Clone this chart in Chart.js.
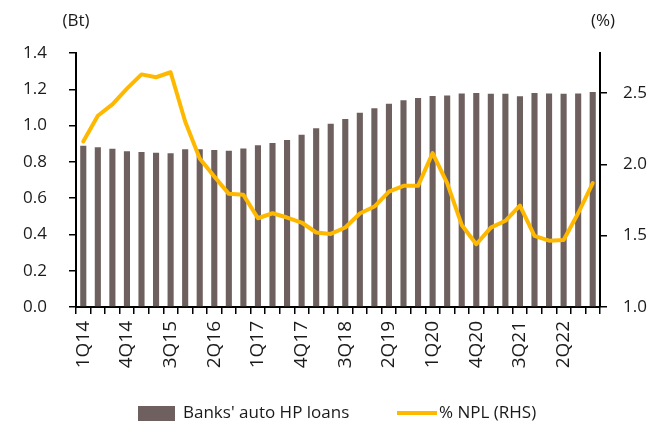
<!DOCTYPE html>
<html>
<head>
<meta charset="utf-8">
<script src="https://cdn.jsdelivr.net/npm/chart.js@4.4.1/dist/chart.umd.min.js"></script>
<style>
  html, body { margin: 0; padding: 0; background: #ffffff; }
  #wrap { width: 660px; height: 425px; position: relative; }
</style>
</head>
<body>
<div id="wrap"><canvas id="c" width="660" height="425"></canvas></div>
<script>
const quarters = ['1Q14','2Q14','3Q14','4Q14','1Q15','2Q15','3Q15','4Q15',
  '1Q16','2Q16','3Q16','4Q16','1Q17','2Q17','3Q17','4Q17',
  '1Q18','2Q18','3Q18','4Q18','1Q19','2Q19','3Q19','4Q19',
  '1Q20','2Q20','3Q20','4Q20','1Q21','2Q21','3Q21','4Q21',
  '1Q22','2Q22','3Q22','4Q22'];
const loans = [0.889,0.881,0.872,0.859,0.854,0.850,0.848,0.869,
  0.870,0.865,0.861,0.874,0.891,0.904,0.920,0.949,
  0.985,1.010,1.036,1.071,1.096,1.120,1.139,1.152,
  1.163,1.166,1.177,1.179,1.175,1.175,1.161,1.179,
  1.177,1.175,1.177,1.185];
const npl = [2.16,2.34,2.42,2.53,2.63,2.61,2.645,2.30,
  2.04,1.914,1.793,1.786,1.622,1.657,1.627,1.592,
  1.522,1.512,1.557,1.655,1.704,1.809,1.849,1.849,
  2.079,1.868,1.575,1.44,1.556,1.604,1.711,1.498,
  1.465,1.470,1.657,1.868];
const leftTicks = [0,0.2,0.4,0.6,0.8,1.0,1.2,1.4];
const rightTicks = [1.0,1.5,2.0,2.5];
const seriesNames = ["Banks' auto HP loans", "% NPL (RHS)"];
const axisTitles = ['(Bt)', '(%)'];

const BAR = '#6e605e';
const LINE = '#ffb800';
const TXT = '#1a1a1a';
const FONT = '"Open Sans", "DejaVu Sans", sans-serif';

const extras = {
  id: 'extras',
  afterDraw(chart) {
    const ctx = chart.ctx;
    ctx.save();
    ctx.font = '17px ' + FONT;
    ctx.fillStyle = TXT;
    ctx.textBaseline = 'middle';
    ctx.textAlign = 'center';
    ctx.fillText(axisTitles[0], 76, 21);
    ctx.fillText(axisTitles[1], 603, 21);
    // legend
    ctx.textAlign = 'left';
    ctx.fillStyle = BAR;
    ctx.fillRect(138, 406, 37, 15);
    ctx.fillStyle = TXT;
    ctx.fillText(seriesNames[0], 183, 413);
    ctx.strokeStyle = LINE;
    ctx.lineWidth = 4;
    ctx.beginPath();
    ctx.moveTo(397, 413);
    ctx.lineTo(437, 413);
    ctx.stroke();
    ctx.fillText(seriesNames[1], 439, 413);
    ctx.restore();
  }
};

new Chart(document.getElementById('c'), {
  data: {
    labels: quarters,
    datasets: [
      {
        type: 'line',
        label: seriesNames[1],
        data: npl,
        yAxisID: 'y1',
        borderColor: LINE,
        backgroundColor: LINE,
        borderWidth: 4,
        pointRadius: 0,
        tension: 0,
        borderJoinStyle: 'round',
        borderCapStyle: 'round',
        order: 0
      },
      {
        type: 'bar',
        label: seriesNames[0],
        data: loans,
        yAxisID: 'y',
        backgroundColor: BAR,
        barPercentage: 0.42,
        categoryPercentage: 1.0,
        order: 1
      }
    ]
  },
  options: {
    responsive: false,
    animation: false,
    devicePixelRatio: 1,
    layout: { padding: { top: 53, bottom: 40, left: 0, right: 0 } },
    plugins: { legend: { display: false }, tooltip: { enabled: false } },
    scales: {
      x: {
        offset: true,
        grid: { display: true, drawOnChartArea: false, drawTicks: true, tickLength: 7, color: '#000', lineWidth: 1.5, offset: true },
        border: { display: true, color: '#000', width: 2 },
        ticks: {
          autoSkip: false,
          minRotation: 90,
          maxRotation: 90,
          padding: 7,
          color: TXT,
          font: { size: 19, family: FONT },
          callback: function(v, i) { return i % 3 === 0 ? quarters[i] : ''; }
        },
        afterFit(s) { s.height = 78; }
      },
      y: {
        position: 'left',
        min: 0,
        max: 1.4,
        afterBuildTicks(s) { s.ticks = leftTicks.map(v => ({ value: v })); },
        grid: { drawOnChartArea: false, drawTicks: true, tickLength: 7, color: '#000', lineWidth: 1.5 },
        border: { display: true, color: '#000', width: 2 },
        ticks: {
          padding: 22,
          color: TXT,
          font: { size: 17, family: FONT },
          callback: v => Number(v).toFixed(1)
        },
        afterFit(s) { s.width = 76; }
      },
      y1: {
        position: 'right',
        min: 1.0,
        max: 2.78,
        afterBuildTicks(s) { s.ticks = rightTicks.map(v => ({ value: v })); },
        grid: { drawOnChartArea: false, drawTicks: true, tickLength: 7, color: '#000', lineWidth: 1.5 },
        border: { display: true, color: '#000', width: 2 },
        ticks: {
          padding: 16,
          color: TXT,
          font: { size: 17, family: FONT },
          callback: v => Number(v).toFixed(1)
        },
        afterFit(s) { s.width = 60; }
      }
    }
  },
  plugins: [extras]
});
</script>
</body>
</html>
